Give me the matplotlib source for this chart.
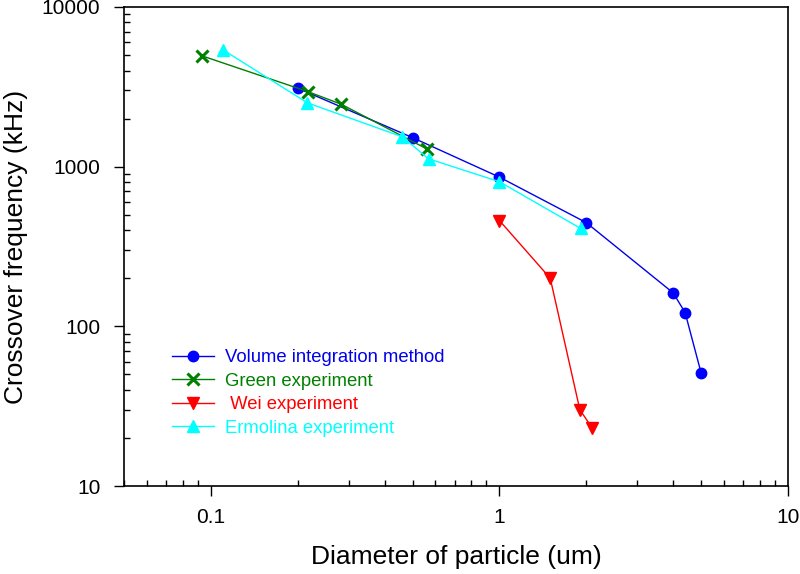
import matplotlib
matplotlib.use("Agg")
import matplotlib.pyplot as plt
from matplotlib.ticker import LogLocator, NullFormatter

plt.rcParams['font.family'] = ['Liberation Sans', 'DejaVu Sans']

# ---- data ----
vol_x = [0.2, 0.5, 1.0, 2.0, 4.0, 4.4, 5.0]
vol_y = [3100, 1520, 860, 446, 162, 122, 51]
green_x = [0.093, 0.217, 0.283, 0.561]
green_y = [4950, 2950, 2460, 1290]
wei_x = [1.0, 1.5, 1.9, 2.1]
wei_y = [460, 200, 30, 23]
erm_x = [0.11, 0.216, 0.46, 0.568, 1.0, 1.91]
erm_y = [5400, 2510, 1540, 1120, 805, 411]

labels = ["Volume integration method", "Green experiment", " Wei experiment", "Ermolina experiment"]
xticks = [0.1, 1, 10]
xticklabels = ["0.1", "1", "10"]
yticks = [10, 100, 1000, 10000]
yticklabels = ["10", "100", "1000", "10000"]

fig = plt.figure(figsize=(8, 5.74), dpi=100)
ax = fig.add_axes([124/800, 1-486/574, (788-124)/800, (486-7)/574])

ax.plot(vol_x, vol_y, color='#0000ee', lw=1.0, marker='o', ms=7.5,
        mfc='#0000ff', mec='#0000ff', label=labels[0])
ax.plot(green_x, green_y, color='#008000', lw=1.0, marker='x', ms=8,
        mew=2.2, label=labels[1])
ax.plot(wei_x, wei_y, color='#ff0000', lw=1.0, marker='v', ms=8.5,
        label=labels[2])
ax.plot(erm_x, erm_y, color='#00ffff', lw=1.0, marker='^', ms=8.5,
        label=labels[3])

ax.set_xscale('log')
ax.set_yscale('log')
ax.set_xlim(0.05, 10)
ax.set_ylim(10, 10000)

ax.set_xticks(xticks)
ax.set_xticklabels(xticklabels)
ax.set_yticks(yticks)
ax.set_yticklabels(yticklabels)
ax.xaxis.set_minor_locator(LogLocator(base=10, subs=range(2, 10)))
ax.yaxis.set_minor_locator(LogLocator(base=10, subs=range(2, 10)))
ax.xaxis.set_minor_formatter(NullFormatter())
ax.yaxis.set_minor_formatter(NullFormatter())

ax.tick_params(which='major', direction='out', length=7, width=1.0, labelsize=15)
ax.tick_params(which='minor', direction='in', length=4, width=1.0)
ax.tick_params(axis='x', which='major', pad=9)
ax.tick_params(axis='y', which='major', pad=10)
ax.tick_params(top=False, right=False, which='both')
for s in ax.spines.values():
    s.set_linewidth(1.2)

ax.set_xlabel("Diameter of particle (um)", fontsize=19, labelpad=13)
ax.set_ylabel("Crossover frequency (kHz)", fontsize=19, labelpad=10)

leg = ax.legend(loc='upper left', bbox_to_anchor=((172-124)/664, (486-349)/479),
                frameon=False, fontsize=13.3, handlelength=2.25, handletextpad=0.6,
                labelspacing=0.36, borderpad=0, borderaxespad=0, labelcolor='linecolor')

fig.savefig("out.png", dpi=100)
